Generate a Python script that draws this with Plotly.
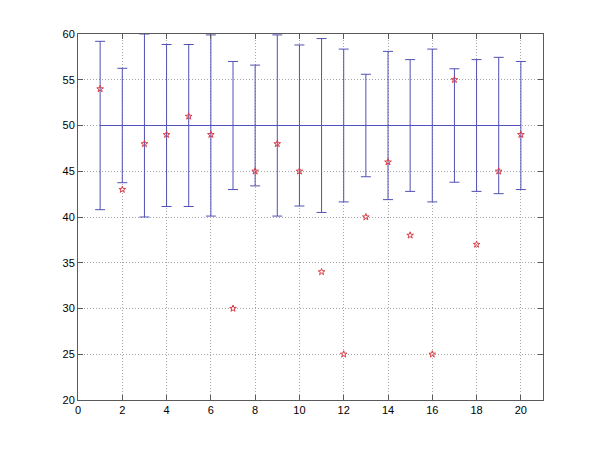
import plotly.graph_objects as go

x_vals = list(range(1, 21))
center = [50] * 20
half_err = [9.2, 6.25, 10.0, 8.85, 8.85, 9.9, 7.0, 6.6, 9.9, 8.8,
            9.5, 8.35, 5.6, 8.1, 7.2, 8.35, 6.2, 7.2, 7.45, 7.0]
obs = [54, 43, 48, 49, 51, 49, 30, 45, 48, 45,
       34, 25, 40, 46, 38, 25, 55, 37, 45, 49]

x_ticks = list(range(0, 21, 2))
y_ticks = list(range(20, 61, 5))

fig = go.Figure()
fig.add_trace(go.Scatter(
    x=x_vals, y=center, mode="lines",
    line=dict(color="rgb(80,80,190)", width=1),
    error_y=dict(type="data", array=half_err, symmetric=True,
                 color="rgb(80,80,180)", thickness=1, width=5),
    showlegend=False, hoverinfo="skip"))
fig.add_trace(go.Scatter(
    x=x_vals, y=obs, mode="markers",
    marker=dict(symbol="star-open", size=5, color="rgb(220,60,70)",
                line=dict(width=1, color="rgb(220,60,70)")),
    showlegend=False))

axis_common = dict(
    showgrid=True, gridcolor="rgb(165,165,165)", griddash="1px,2px", gridwidth=1,
    zeroline=False, showline=True, linecolor="rgb(90,90,90)", linewidth=1,
    mirror="ticks", ticks="inside", ticklen=5, tickcolor="rgb(90,90,90)",
    tickfont=dict(family="Liberation Sans, Arial, sans-serif", size=11, color="black"),
)
fig.update_xaxes(range=[0, 21], tickvals=x_ticks, **axis_common)
fig.update_yaxes(range=[20, 60], tickvals=y_ticks, **axis_common)
fig.update_layout(
    width=600, height=450,
    margin=dict(l=70, r=65, t=26, b=58),
    paper_bgcolor="white", plot_bgcolor="white",
)
fig.write_html("out.html")
